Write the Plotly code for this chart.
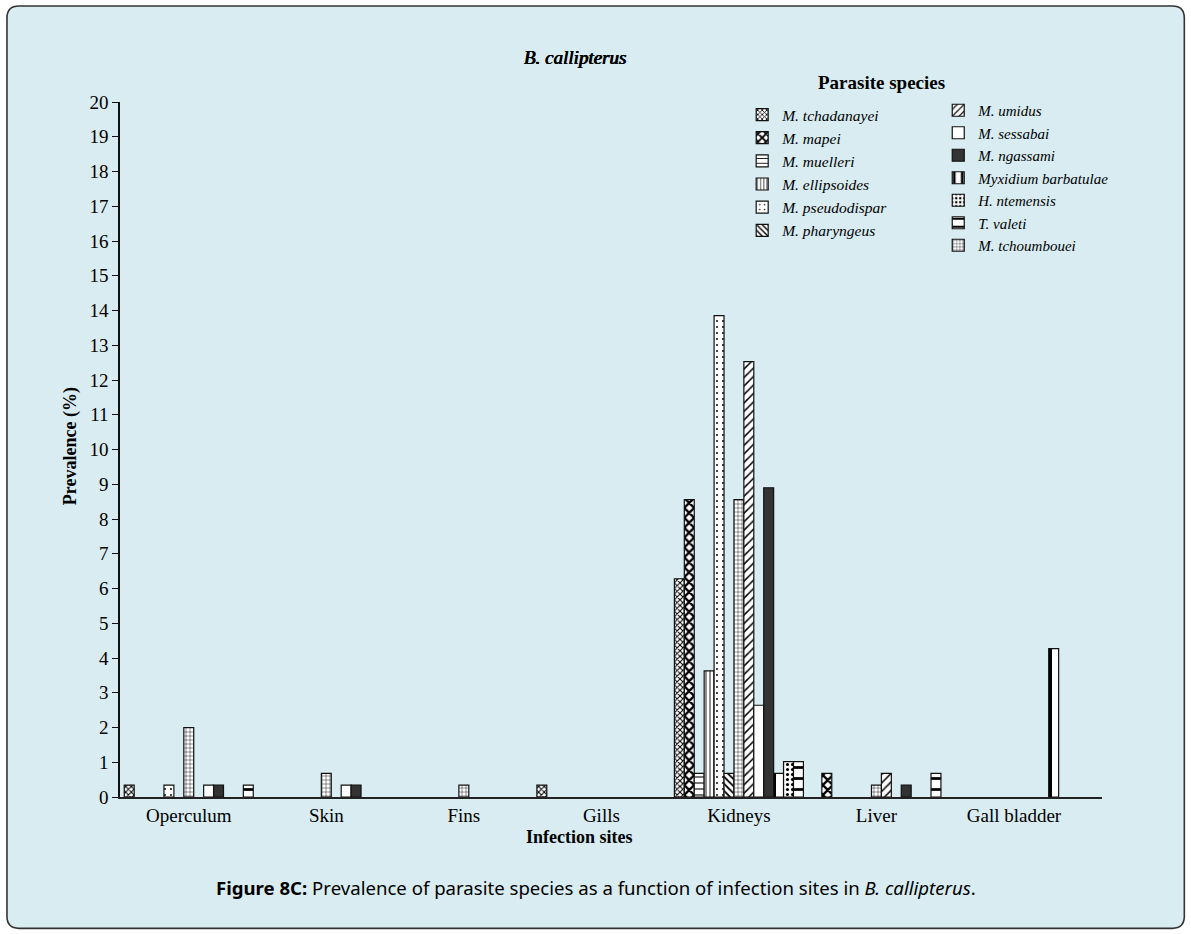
import plotly.graph_objects as go

# Infection sites (x categories)
sites = ["Operculum", "Skin", "Fins", "Gills", "Kidneys", "Liver", "Gall bladder"]

# Prevalence (%) per parasite species at each site (None = not found)
m_tchadanayei = [0.34, None, None, 0.34, 6.28, None, None]
m_mapei = [None, None, None, None, 8.56, 0.68, None]
m_muelleri = [None, None, None, None, 0.68, None, None]
m_ellipsoides = [None, None, None, None, 3.63, None, None]
m_pseudodispar = [0.34, None, None, None, 13.85, None, None]
m_pharyngeus = [None, None, None, None, 0.68, None, None]
m_tchoumbouei = [2.0, 0.68, 0.34, None, 8.56, 0.34, None]
m_umidus = [None, None, None, None, 12.53, 0.68, None]
m_sessabai = [0.34, 0.34, None, None, 2.64, None, None]
m_ngassami = [0.34, 0.34, None, None, 8.9, 0.34, None]
myxidium_barbatulae = [None, None, None, None, 0.68, None, 4.27]
h_ntemensis = [None, None, None, None, 1.02, None, None]
t_valeti = [0.34, None, None, None, 1.02, 0.68, None]

y_ticks = list(range(0, 21))

BG = "#d8ecf1"
SERIF = "Liberation Serif"

# (name, values, pattern shape, pattern size, solidity, fill, legend, rank)
series = [
    ("M. tchadanayei", m_tchadanayei, "x", 4, 0.45, "white", "legend", 1),
    ("M. mapei", m_mapei, "x", 7, 0.55, "white", "legend", 2),
    ("M. muelleri", m_muelleri, "-", 6, 0.18, "white", "legend", 3),
    ("M. ellipsoides", m_ellipsoides, "|", 4, 0.22, "white", "legend", 4),
    ("M. pseudodispar", m_pseudodispar, ".", 6, 0.08, "white", "legend", 5),
    ("M. pharyngeus", m_pharyngeus, "\\", 5, 0.35, "white", "legend", 6),
    ("M. tchoumbouei", m_tchoumbouei, "+", 4, 0.2, "white", "legend2", 7),
    ("M. umidus", m_umidus, "/", 6, 0.25, "white", "legend2", 1),
    ("M. sessabai", m_sessabai, "", 8, 0.3, "white", "legend2", 2),
    ("M. ngassami", m_ngassami, "", 8, 0.3, "#333333", "legend2", 3),
    ("Myxidium barbatulae", myxidium_barbatulae, "|", 12, 0.33, "white", "legend2", 4),
    ("H. ntemensis", h_ntemensis, ".", 5, 0.3, "white", "legend2", 5),
    ("T. valeti", t_valeti, "-", 11, 0.25, "white", "legend2", 6),
]

fig = go.Figure()
for name, vals, shape, size, sol, fill, leg, rank in series:
    fig.add_trace(go.Bar(
        name=name,
        x=sites,
        y=vals,
        legend=leg,
        legendrank=rank,
        marker=dict(
            color=fill,
            line=dict(color="#111111", width=1.2),
            pattern=dict(shape=shape, size=size, solidity=sol,
                         fgcolor="black", bgcolor=fill, fillmode="replace"),
        ),
    ))

# Plot-area geometry in pixels, used to place the frame and the texts
W, H = 1191, 934
L, R, T, B = 120, 89.3, 102, 137.3
pw, ph = W - L - R, H - T - B


def fx(px):
    return (px - L) / pw


def fy(py):
    return (H - B - py) / ph


x0, x1, y0, y1, r = 7, 1184, 6, 928, 12
frame = (
    f"M {fx(x0 + r)},{fy(y0)} L {fx(x1 - r)},{fy(y0)} "
    f"Q {fx(x1)},{fy(y0)} {fx(x1)},{fy(y0 + r)} L {fx(x1)},{fy(y1 - r)} "
    f"Q {fx(x1)},{fy(y1)} {fx(x1 - r)},{fy(y1)} L {fx(x0 + r)},{fy(y1)} "
    f"Q {fx(x0)},{fy(y1)} {fx(x0)},{fy(y1 - r)} L {fx(x0)},{fy(y0 + r)} "
    f"Q {fx(x0)},{fy(y0)} {fx(x0 + r)},{fy(y0)} Z"
)


def text_at(text, px, py, angle=0, **font):
    return dict(text=text, xref="paper", yref="paper", x=fx(px), y=fy(py),
                xanchor="center", yanchor="middle", showarrow=False,
                textangle=angle, font=font)


fig.update_layout(
    width=W, height=H,
    margin=dict(l=L, r=R, t=T, b=B, pad=0),
    paper_bgcolor="white",
    plot_bgcolor="rgba(0,0,0,0)",
    barmode="group",
    bargap=0.062,
    bargroupgap=0,
    font=dict(family=SERIF, size=19, color="black"),
    shapes=[dict(type="path", xref="paper", yref="paper", path=frame,
                 fillcolor=BG, line=dict(color="#333333", width=1.6),
                 layer="below")],
    xaxis=dict(
        range=[-0.5, 6.64],
        showline=True, linecolor="#222222", linewidth=1.5,
        ticks="", showgrid=False, zeroline=False,
        tickfont=dict(family=SERIF, size=19),
    ),
    yaxis=dict(
        range=[0, 20],
        tickvals=y_ticks,
        showline=True, linecolor="#111111", linewidth=1.5,
        ticks="outside", ticklen=6, tickwidth=1.3, tickcolor="#111111",
        showgrid=False, zeroline=False,
        tickfont=dict(family=SERIF, size=19),
    ),
    legend=dict(
        x=fx(742), y=fy(98), xanchor="left", yanchor="top",
        bgcolor="rgba(0,0,0,0)", borderwidth=0,
        font=dict(family=SERIF, size=15.5, style="italic"),
        tracegroupgap=0, itemwidth=30,
    ),
    legend2=dict(
        x=fx(938), y=fy(94), xanchor="left", yanchor="top",
        bgcolor="rgba(0,0,0,0)", borderwidth=0,
        font=dict(family=SERIF, size=15, style="italic"),
        tracegroupgap=0, itemwidth=30,
    ),
    annotations=[
        # serif italic heading, thickened with a slight shadow
        text_at("B. callipterus", 575, 58, family=SERIF, size=19,
                style="italic", shadow="0.5px 0 0 black, -0.4px 0 0 black"),
        text_at("<b>Parasite species</b>", 881, 83, family=SERIF, size=19),
        text_at("<b>Infection sites</b>", 579, 837, family=SERIF, size=18),
        text_at("<b>Prevalence (%)</b>", 70, 446, angle=-90, family=SERIF,
                size=18),
        text_at("<b>Figure 8C:</b> Prevalence of parasite species as a function "
                "of infection sites in <i>B. callipterus</i>.",
                596, 887, family="Noto Sans", size=18.6),
    ],
)

fig.write_html("out.html")
